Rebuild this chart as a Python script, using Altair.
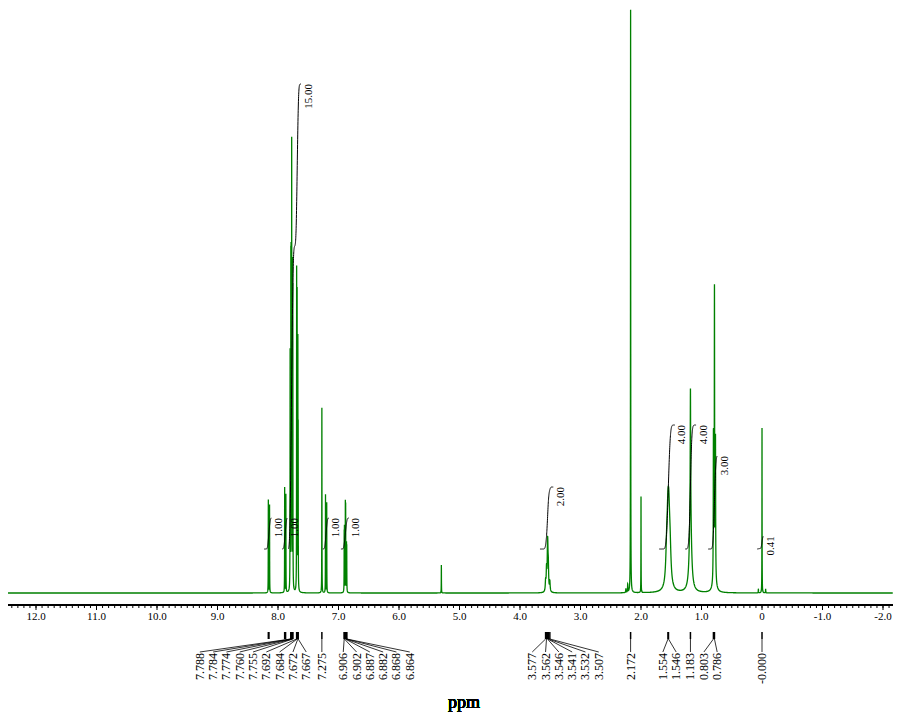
import numpy as np
import pandas as pd
import altair as alt

# ---------------- data ----------------
# peaks: position (ppm), height (intensity units above baseline), half-width (ppm)
peak_ppm = [8.160, 8.140, 7.890, 7.870, 7.800, 7.788, 7.784, 7.774, 7.760, 7.755,
            7.692, 7.684, 7.672, 7.667, 7.275, 7.215, 7.195,
            6.906, 6.902, 6.887, 6.882, 6.868, 6.864, 5.300,
            3.577, 3.562, 3.546, 3.541, 3.532, 3.507,
            2.250, 2.220, 2.172, 2.000,
            1.575, 1.555, 1.540, 1.520,
            1.183, 1.183, 0.803, 0.786, 0.769, 0.786,
            0.060, 0.000, -0.060]
peak_height = [93, 88, 105, 98, 235, 300, 300, 440, 305, 280,
               315, 290, 240, 150, 185, 98, 90,
               55, 60, 85, 82, 45, 42, 28,
               10, 21, 30, 28, 21, 10,
               4, 8, 583, 96,
               30, 52, 52, 30,
               120, 84, 140, 275, 135, 25,
               4, 165, 4]
peak_width = [0.0015, 0.0015, 0.0015, 0.0015, 0.0015, 0.0015, 0.0015, 0.0015, 0.0015, 0.0015,
              0.0015, 0.0015, 0.0015, 0.0015, 0.0015, 0.0015, 0.0015,
              0.0015, 0.0015, 0.0015, 0.0015, 0.0015, 0.0015, 0.0015,
              0.006, 0.006, 0.006, 0.006, 0.006, 0.006,
              0.003, 0.003, 0.002, 0.0015,
              0.018, 0.018, 0.018, 0.018,
              0.004, 0.020, 0.003, 0.003, 0.003, 0.020,
              0.002, 0.0015, 0.002]

# integrals: region (ppm, left -> right) and value
int_start = [8.23, 7.93, 7.83, 7.26, 6.96, 3.67, 1.70, 1.27, 0.89, 0.08]
int_end = [8.11, 7.85, 7.62, 7.16, 6.83, 3.45, 1.44, 1.09, 0.74, -0.02]
int_value = [1.00, 1.00, 15.00, 1.00, 1.00, 2.00, 4.00, 4.00, 3.00, 0.41]

# peak-pick labels
label_text = ["7.788", "7.784", "7.774", "7.760", "7.755", "7.692", "7.684", "7.672", "7.667",
              "7.275",
              "6.906", "6.902", "6.887", "6.882", "6.868", "6.864",
              "3.577", "3.562", "3.546", "3.541", "3.532", "3.507",
              "2.172", "1.554", "1.546", "1.183", "0.803", "0.786", "-0.000"]
label_group = [0, 0, 0, 0, 0, 0, 0, 0, 0,
               1,
               2, 2, 2, 2, 2, 2,
               3, 3, 3, 3, 3, 3,
               4, 5, 5, 6, 7, 7, 8]
extra_pick_ppm = [8.160, 8.150, 7.890, 7.875]

# axis
major_ticks = [12, 11, 10, 9, 8, 7, 6, 5, 4, 3, 2, 1, 0, -1, -2]
major_labels = ["12.0", "11.0", "10.0", "9.0", "8.0", "7.0", "6.0", "5.0",
                "4.0", "3.0", "2.0", "1.0", "0", "-1.0", "-2.0"]

# ---------------- layout ----------------
W, H = 885, 704
PX_PER_PPM = 60.5
PPM_LEFT = 12.463
PPM_RIGHT = PPM_LEFT - W / PX_PER_PPM
Y_DOMAIN = [585 - H, 585]
GREEN = "#008000"
FONT = "Liberation Serif"

xscale = alt.Scale(domain=[PPM_RIGHT, PPM_LEFT], reverse=True, nice=False, zero=False)
yscale = alt.Scale(domain=Y_DOMAIN, nice=False, zero=False)


def lor(x, x0, h, g):
    return h / (1.0 + ((x - x0) / g) ** 2)


# spectrum sampling grid: coarse everywhere, fine near peaks
pts = [np.arange(PPM_RIGHT, PPM_LEFT, 0.004)]
for p, g in zip(peak_ppm, peak_width):
    w = max(0.04, 25 * g)
    step = min(g / 3.0, 0.0006)
    pts.append(np.arange(p - w, p + w, step))
    pts.append(np.array([p]))
xs = np.unique(np.round(np.concatenate(pts), 5))
xs = xs[(xs >= PPM_RIGHT) & (xs <= PPM_LEFT)]
ys = np.zeros_like(xs)
for p, h, g in zip(peak_ppm, peak_height, peak_width):
    ys += lor(xs, p, h, g)
spec = pd.DataFrame({"ppm": xs, "I": np.round(ys, 2)})

# integral curves (cumulative area of peaks in each region)
INT_BASE, INT_UNIT, SIG = 44.0, 31.0, 0.012
rows, lab_rows = [], []
for k, (a, b, v) in enumerate(zip(int_start, int_end, int_value)):
    gx = np.linspace(a, b, 160)
    dens = np.zeros_like(gx)
    for p, h, g in zip(peak_ppm, peak_height, peak_width):
        if b <= p <= a:
            s = max(SIG, g)
            dens += h * g * np.exp(-0.5 * ((gx - p) / s) ** 2)
    cum = np.cumsum(dens)
    cum = (cum - cum[0]) / (cum[-1] - cum[0])
    yv = INT_BASE + v * INT_UNIT * cum
    for xx, yy in zip(gx, yv):
        rows.append({"ppm": xx, "I": yy, "id": k})
    lab_rows.append({"ppm": b - 7.5 / PX_PER_PPM, "I": INT_BASE + v * INT_UNIT,
                     "txt": f"{v:.2f}"})
integ = pd.DataFrame(rows)
integ_lab = pd.DataFrame(lab_rows)

# label slots
group_center = {0: 8.413, 1: None, 2: 6.372, 3: 3.248, 4: None, 5: 1.529, 6: None, 7: 0.851, 8: None}
SPACING = 13.3 / PX_PER_PPM
lab_ppm = [float(t) for t in label_text]
slots = []
for gi in sorted(set(label_group)):
    idx = [i for i, gg in enumerate(label_group) if gg == gi]
    n = len(idx)
    c = group_center[gi]
    for j, i in enumerate(idx):
        if c is None:
            slots.append(lab_ppm[i])
        else:
            slots.append(c - (j - (n - 1) / 2.0) * SPACING)
labels = pd.DataFrame({"ppm": lab_ppm, "slot": slots, "txt": label_text})
picks = pd.DataFrame({"ppm": lab_ppm + extra_pick_ppm})

minor = pd.DataFrame({"ppm": np.round(np.arange(-2.1, 12.45, 0.1), 2)})
major = pd.DataFrame({"ppm": major_ticks, "txt": major_labels})

X = alt.X("ppm:Q", scale=xscale, axis=None)

spectrum = alt.Chart(spec).mark_line(color=GREEN, strokeWidth=1.3, clip=True).encode(
    x=X, y=alt.Y("I:Q", scale=yscale, axis=None))

integrals = alt.Chart(integ).mark_line(color="black", strokeWidth=1).encode(
    x=X, y=alt.Y("I:Q", scale=yscale, axis=None), detail="id:N")

integral_labels = alt.Chart(integ_lab).mark_text(
    angle=270, align="right", baseline="middle", font=FONT, fontSize=11, color="black"
).encode(x=X, y=alt.Y("I:Q", scale=yscale, axis=None), text="txt:N")

axis_line = alt.Chart(major).mark_rule(color="black", strokeWidth=1).encode(
    x=alt.value(0), x2=alt.value(W), y=alt.value(597))

minor_ticks = alt.Chart(minor).mark_rule(color="black", strokeWidth=1).encode(
    x=X, y=alt.value(597), y2=alt.value(600))

major_tick_marks = alt.Chart(major).mark_rule(color="black", strokeWidth=1).encode(
    x=X, y=alt.value(597), y2=alt.value(602))

tick_labels = alt.Chart(major).mark_text(
    baseline="middle", align="center", font=FONT, fontSize=11, color="black"
).encode(x=X, y=alt.value(609), text="txt:N")

pick_bars = alt.Chart(picks).mark_rule(color="black", strokeWidth=1.5).encode(
    x=X, y=alt.value(624), y2=alt.value(631))

connectors = alt.Chart(labels).mark_rule(color="black", strokeWidth=0.8).encode(
    x=X, x2="slot:Q", y=alt.value(631), y2=alt.value(644))

peak_labels = alt.Chart(labels).mark_text(
    angle=270, align="right", baseline="middle", font=FONT, fontSize=12, color="black"
).encode(x=alt.X("slot:Q", scale=xscale, axis=None), y=alt.value(645), text="txt:N")

title = alt.Chart(major).mark_text(
    font=FONT, fontSize=18, color="black", baseline="middle", align="center"
).encode(x=alt.value(456), y=alt.value(695), text=alt.value("ppm"))

chart = alt.layer(
    spectrum, integrals, integral_labels, axis_line, minor_ticks, major_tick_marks,
    tick_labels, pick_bars, connectors, peak_labels, title
).properties(
    width=W, height=H, padding=0, autosize=alt.AutoSizeParams(type="none")
).configure_view(stroke=None)

chart.save("out.html", embed_options={"renderer": "svg", "actions": False})
